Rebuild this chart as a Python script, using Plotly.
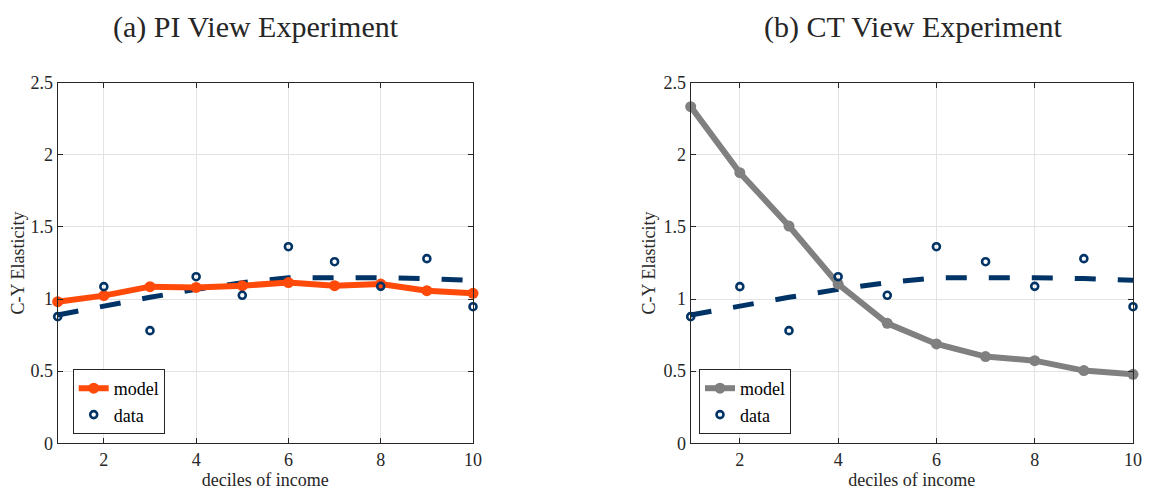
import plotly.graph_objects as go

deciles = [1, 2, 3, 4, 5, 6, 7, 8, 9, 10]

# empirical elasticities by income decile
data_elast = [0.878, 1.086, 0.781, 1.155, 1.026, 1.363, 1.259, 1.088, 1.280, 0.947]
# smooth fit through the data (dashed)
data_fit = [0.890, 0.954, 1.012, 1.067, 1.114, 1.148, 1.151, 1.148, 1.142, 1.130]

model_pi = [0.982, 1.024, 1.086, 1.081, 1.093, 1.114, 1.093, 1.104, 1.058, 1.040]
model_ct = [2.334, 1.876, 1.506, 1.104, 0.832, 0.689, 0.601, 0.573, 0.504, 0.478]

titles = ["(a) PI View Experiment", "(b) CT View Experiment"]
y_ticks = [0, 0.5, 1, 1.5, 2, 2.5]
y_ticktext = ["0", "0.5", "1", "1.5", "2", "2.5"]
x_ticks = [2, 4, 6, 8, 10]

NAVY = "#003366"
ORANGE = "#FF4A0A"
GREY = "#808080"
FONT = "Liberation Serif"

# the page body has an 8px margin, so the figure sits 8px in from the corner
OFF = 8
W, H = 1166 - OFF, 493 - OFF


def px(x):
    return (x - OFF) / W


def py(y):
    return 1 - (y - OFF) / H


fig = go.Figure()

panels = [
    ("x", "y", "legend", model_pi, ORANGE),
    ("x2", "y2", "legend2", model_ct, GREY),
]
for xa, ya, leg, model, col in panels:
    fig.add_trace(go.Scatter(
        x=deciles, y=data_fit, xaxis=xa, yaxis=ya, mode="lines",
        line=dict(color=NAVY, width=5, dash="21px,22px"),
        showlegend=False, hoverinfo="skip",
    ))
    fig.add_trace(go.Scatter(
        x=deciles, y=model, xaxis=xa, yaxis=ya, mode="lines+markers",
        line=dict(color=col, width=6), marker=dict(color=col, size=11),
        name="model", legend=leg, cliponaxis=False,
    ))
    fig.add_trace(go.Scatter(
        x=deciles, y=data_elast, xaxis=xa, yaxis=ya, mode="markers",
        marker=dict(symbol="circle-open", color=NAVY, size=7,
                    line=dict(width=2.6, color=NAVY)),
        name="data", legend=leg, cliponaxis=False,
    ))

axis_common = dict(
    showline=True, linecolor="#262626", linewidth=1, mirror="ticks",
    ticks="inside", ticklen=5, tickcolor="#262626",
    showgrid=True, gridcolor="#e3e3e3", gridwidth=1, zeroline=False,
    tickfont=dict(family=FONT, size=18, color="#262626"),
    automargin=False,
)
xaxis_common = dict(
    axis_common, range=[1, 10], tickvals=x_ticks,
    title=dict(text="deciles of income", standoff=2,
               font=dict(family=FONT, size=18, color="#262626")),
)
yaxis_common = dict(
    axis_common, range=[0, 2.5], tickvals=y_ticks, ticktext=y_ticktext,
    title=dict(text="C-Y Elasticity", standoff=3,
               font=dict(family=FONT, size=18, color="#262626")),
)

legend_common = dict(
    xanchor="left", yanchor="bottom",
    bgcolor="white", bordercolor="#262626", borderwidth=1,
    font=dict(family=FONT, size=18, color="black"),
    tracegroupgap=0, itemwidth=30,
)

y_dom = [py(443.3), py(82.7)]

fig.update_layout(
    width=W, height=H,
    margin=dict(l=0, r=0, t=0, b=0, autoexpand=False),
    paper_bgcolor="white", plot_bgcolor="white",
    xaxis=dict(xaxis_common, domain=[px(57.7), px(473)], anchor="y"),
    yaxis=dict(yaxis_common, domain=y_dom, anchor="x"),
    xaxis2=dict(xaxis_common, domain=[px(690.7), px(1133)], anchor="y2"),
    yaxis2=dict(yaxis_common, domain=y_dom, anchor="x2"),
    legend=dict(legend_common, x=px(72.7), y=py(434)),
    legend2=dict(legend_common, x=px(699), y=py(434)),
    showlegend=True,
)

for txt, cx in zip(titles, [256, 913]):
    fig.add_annotation(
        text=txt, x=px(cx), y=py(27), xref="paper", yref="paper",
        xanchor="center", yanchor="middle", showarrow=False,
        font=dict(family=FONT, size=30, color="#262626"),
    )

fig.write_html("out.html")
